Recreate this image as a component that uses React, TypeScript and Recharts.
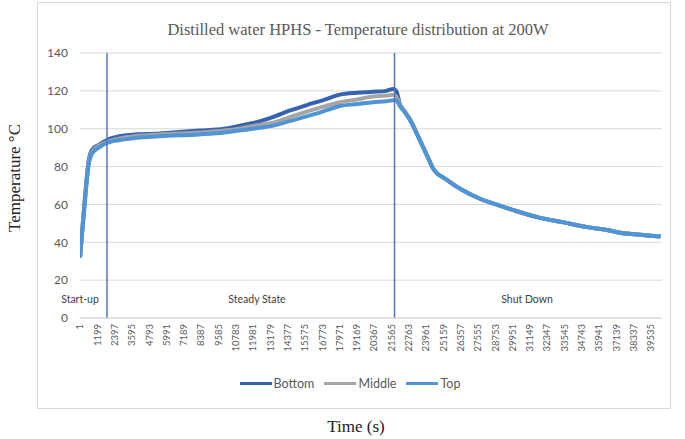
import { LineChart, Line, XAxis, YAxis, CartesianGrid, ReferenceLine } from 'recharts';

// time in seconds, temperatures in °C
const TIMES = [1, 300, 620, 850, 1300, 1870, 3200, 5500, 8250, 10000, 11000, 12000, 13300, 14500, 15700, 16800, 18000, 19200, 20300, 21200, 21700, 21900, 22150, 22500, 22850, 23500, 24200, 24450, 25400, 26500, 27700, 28800, 30000, 31800, 33500, 35100, 36500, 37400, 38800, 40200];
const BOTTOM = [32, 60, 84, 89, 91.5, 94, 96.5, 97.5, 99, 100, 101.5, 103, 106, 109.5, 112.5, 115, 118, 119, 119.5, 120, 121, 120, 113, 109, 105, 94.5, 83, 79, 73, 67.5, 63, 60, 57, 53, 50.5, 48, 46.5, 45, 44, 43];
const MIDDLE = [32, 59, 83, 88, 91, 93, 95.5, 97, 98, 99, 100, 101.5, 103, 106, 109, 111.5, 114, 115.5, 117, 117.5, 118, 117, 113, 109, 105, 94.5, 83, 79, 73, 67.5, 63, 60, 57, 53, 50.5, 48, 46.5, 45, 44, 43];
const TOP = [32, 58, 82, 87, 90, 92.5, 94.5, 96, 97, 98, 99, 100, 101.5, 104, 106.5, 109, 112, 113, 114, 114.5, 115, 115, 112, 108.5, 104.5, 94.5, 83, 79, 73, 67.5, 63, 60, 57, 53, 50.5, 48, 46.5, 45, 44, 43];

const X_TICKS = [1, 1199, 2397, 3595, 4793, 5991, 7189, 8387, 9585, 10783, 11981, 13179, 14377, 15575, 16773, 17971, 19169, 20367, 21565, 22763, 23961, 25159, 26357, 27555, 28753, 29951, 31149, 32347, 33545, 34743, 35941, 37139, 38337, 39535];
const Y_TICKS = [0, 20, 40, 60, 80, 100, 120, 140];

// phase boundaries (s)
const PHASE_LINES = [1870, 21780];

const SERIES = [
  { key: 'bottom', name: 'Bottom', color: '#3563B0' },
  { key: 'middle', name: 'Middle', color: '#A5A5A5' },
  { key: 'top', name: 'Top', color: '#4F94D4' },
];

const data = TIMES.map((t, i) => ({ t, bottom: BOTTOM[i], middle: MIDDLE[i], top: TOP[i] }));

const SANS = 'Lato, "Open Sans", sans-serif';
const SERIF = '"Liberation Serif", "Times New Roman", serif';

const TimeTick = ({ x, y, payload }: any) => (
  <text
    x={x}
    y={y}
    transform={`rotate(-90 ${x} ${y})`}
    textAnchor="end"
    dy="0.35em"
    fontSize={9.5}
    fill="#595959"
    fontFamily={SANS}
  >
    {payload.value}
  </text>
);

const phaseLabel = (text: string, left: number): any => ({
  position: 'absolute',
  left,
  top: 293,
  width: 0,
  display: 'flex',
  justifyContent: 'center',
  whiteSpace: 'nowrap',
  fontFamily: SANS,
  fontSize: 10.5,
  color: '#404040',
});

export default function App() {
  return (
    <div style={{ position: 'absolute', left: 0, top: 0, width: 685, height: 439, background: '#fff' }}>
      {/* chart frame */}
      <div style={{ position: 'absolute', left: 37, top: 2, width: 632, height: 405, border: '1px solid #D9D9D9' }} />

      <div style={{ position: 'absolute', left: 0, width: 716, top: 20, textAlign: 'center', fontFamily: SERIF, fontSize: 16.5, color: '#595959' }}>
        Distilled water HPHS - Temperature distribution at 200W
      </div>

      <div style={{ position: 'absolute', left: 0, top: 0 }}>
        <LineChart width={685} height={439} data={data} margin={{ top: 53, right: 23, bottom: 81, left: 40 }}>
          <CartesianGrid vertical={false} stroke="#D9D9D9" strokeWidth={1} />
          <XAxis
            dataKey="t"
            type="number"
            domain={[1, 40300]}
            ticks={X_TICKS}
            interval={0}
            allowDataOverflow
            height={40}
            tickSize={0}
            tickMargin={6}
            axisLine={{ stroke: '#D9D9D9' }}
            tick={<TimeTick />}
          />
          <YAxis
            domain={[0, 140]}
            ticks={Y_TICKS}
            width={40}
            axisLine={false}
            tickLine={false}
            tickSize={0}
            tickMargin={12}
            tick={{ fontSize: 12, fill: '#595959', fontFamily: SANS }}
          />
          {SERIES.map((s) => (
            <Line
              key={s.key}
              dataKey={s.key}
              name={s.name}
              type="monotone"
              stroke={s.color}
              strokeWidth={4}
              dot={false}
              isAnimationActive={false}
            />
          ))}
          {PHASE_LINES.map((t) => (
            <ReferenceLine key={t} x={t} stroke="#5A74BA" strokeWidth={1.5} />
          ))}
        </LineChart>
      </div>

      <div style={phaseLabel('Start-up', 80)}>Start-up</div>
      <div style={phaseLabel('Steady State', 257)}>Steady State</div>
      <div style={phaseLabel('Shut Down', 527)}>Shut Down</div>

      {/* legend */}
      <div style={{ position: 'absolute', left: 0, top: 376, width: 700, display: 'flex', justifyContent: 'center', gap: 10, fontFamily: SANS, fontSize: 12.5, color: '#595959' }}>
        {SERIES.map((s) => (
          <div key={s.key} style={{ display: 'flex', alignItems: 'center' }}>
            <div style={{ width: 32, height: 3, background: s.color, marginRight: 2 }} />
            <span>{s.name}</span>
          </div>
        ))}
      </div>

      <div style={{ position: 'absolute', left: 0, top: 178, width: 30, height: 0 }}>
        <div style={{ position: 'absolute', left: 15, top: 0, transform: 'translate(-50%, -50%) rotate(-90deg)', whiteSpace: 'nowrap', fontFamily: SERIF, fontSize: 17, color: '#222' }}>
          Temperature °C
        </div>
      </div>

      <div style={{ position: 'absolute', left: 0, width: 712, top: 417, textAlign: 'center', fontFamily: SERIF, fontSize: 17, color: '#222' }}>
        Time (s)
      </div>
    </div>
  );
}
